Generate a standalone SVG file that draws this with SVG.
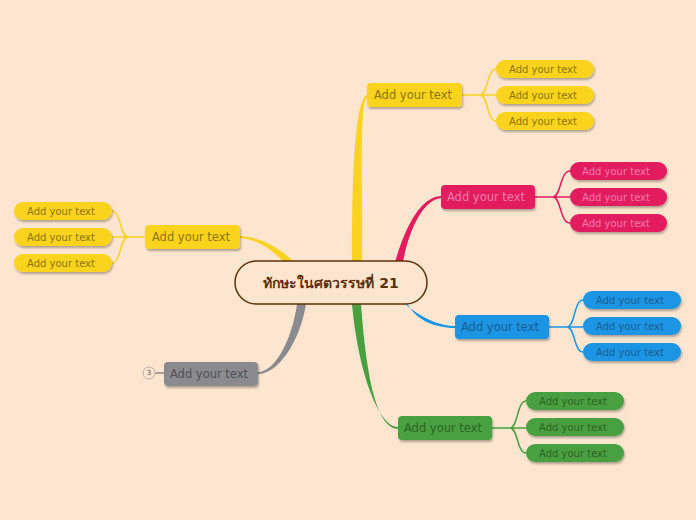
<svg xmlns="http://www.w3.org/2000/svg" width="696" height="520" viewBox="0 0 696 520">
<defs>
<filter id="sh" x="-10%" y="-20%" width="130%" height="160%">
<feDropShadow dx="1" dy="2" stdDeviation="1" flood-color="#000" flood-opacity="0.3"/>
</filter>
</defs>
<style>
text{font-family:"DejaVu Sans","Liberation Sans",sans-serif;text-anchor:middle;dominant-baseline:central}
.m{font-size:11.5px}
.c{font-size:10px}
.y rect{fill:#F9D31F}
.y text{fill:#8f7512}
.p rect{fill:#E31B5F}
.p text{fill:#F27AA8}
.b rect{fill:#1A95E5}
.b text{fill:#1B5F92}
.g rect{fill:#48A03F}
.g text{fill:#2C6425}
.k rect{fill:#8B8B8F}
.k text{fill:#505055}
.ly{stroke:#F9D31F}.lp{stroke:#E31B5F}.lb{stroke:#1A95E5}.lg{stroke:#48A03F}.lk{stroke:#8B8B8F}
#connectors path.s{fill:none;stroke-width:1.5}
</style>
<rect width="696" height="520" fill="#FDE6D0"/>
<g id="connectors">
<path d="M352,262 C352,150 357,96 368,94.5 L368,97 C360,98 362,150 362,262 Z" fill="#F9D31F"/>
<path d="M395,262 C405,228 420,197 441,196 L441,198 C423,200 409,230 403,262 Z" fill="#E31B5F"/>
<path d="M403,302 C420,318 440,326 455,326 L455,328 C438,328 418,322 408,305 Z" fill="#1A95E5"/>
<path d="M352,304 C358,370 378,427 398,427 L398,429 C375,428 366,370 361,304 Z" fill="#48A03F"/>
<path d="M294,262 C278,246 258,237 240,236 L240,238 C257,239 272,250 285,263 Z" fill="#F9D31F"/>
<path d="M297,304 C292,340 275,372 258,372 L258,374 C278,374 300,342 306,304 Z" fill="#8B8B8F"/>
<path class="s ly" d="M462,95 L480,95 C488,95 487,69 496,69 M480,95 L496,95 M480,95 C488,95 487,121 496,121"/>
<path class="s lp" d="M535,197 L553,197 C561,197 560,171 570,171 M553,197 L570,197 M553,197 C561,197 560,223 570,223"/>
<path class="s lb" d="M549,327 L567,327 C575,327 574,300 583,300 M567,327 L583,327 M567,327 C575,327 574,352 583,352"/>
<path class="s lg" d="M492,428 L510,428 C518,428 517,401 526,401 M510,428 L526,428 M510,428 C518,428 517,453 526,453"/>
<path class="s ly" d="M145,237 L128,237 C120,237 121,211 112,211 M128,237 L112,237 M128,237 C120,237 121,263 112,263"/>
<path class="s lk" d="M164,373 L155,373"/>
</g>
<g id="central">
<rect x="235" y="261" width="192" height="43" rx="21.5" fill="#FDE6D0" stroke="#5C3309" stroke-width="1.5"/>
<text x="331" y="283" font-size="14" font-weight="bold" fill="#5C2F0B">ทักษะในศตวรรษที่ 21</text>
</g>
<g id="n-top" class="y"><rect x="367" y="83" width="95" height="24" rx="4" filter="url(#sh)"/><text class="m" x="413" y="95">Add your text</text></g>
<g id="n-top-1" class="y"><rect x="496" y="60" width="98" height="18" rx="9" filter="url(#sh)"/><text class="c" x="543" y="69">Add your text</text></g>
<g id="n-top-2" class="y"><rect x="496" y="86" width="98" height="18" rx="9" filter="url(#sh)"/><text class="c" x="543" y="95">Add your text</text></g>
<g id="n-top-3" class="y"><rect x="496" y="112" width="98" height="18" rx="9" filter="url(#sh)"/><text class="c" x="543" y="121">Add your text</text></g>
<g id="n-pink" class="p"><rect x="441" y="185" width="94" height="24" rx="4" filter="url(#sh)"/><text class="m" x="486" y="197">Add your text</text></g>
<g id="n-pink-1" class="p"><rect x="570" y="162" width="97" height="18" rx="9" filter="url(#sh)"/><text class="c" x="616" y="171">Add your text</text></g>
<g id="n-pink-2" class="p"><rect x="570" y="188" width="97" height="18" rx="9" filter="url(#sh)"/><text class="c" x="616" y="197">Add your text</text></g>
<g id="n-pink-3" class="p"><rect x="570" y="214" width="97" height="18" rx="9" filter="url(#sh)"/><text class="c" x="616" y="223">Add your text</text></g>
<g id="n-blue" class="b"><rect x="455" y="315" width="94" height="24" rx="4" filter="url(#sh)"/><text class="m" x="500" y="327">Add your text</text></g>
<g id="n-blue-1" class="b"><rect x="583" y="291" width="98" height="18" rx="9" filter="url(#sh)"/><text class="c" x="630" y="300">Add your text</text></g>
<g id="n-blue-2" class="b"><rect x="583" y="317" width="98" height="18" rx="9" filter="url(#sh)"/><text class="c" x="630" y="326">Add your text</text></g>
<g id="n-blue-3" class="b"><rect x="583" y="343" width="98" height="18" rx="9" filter="url(#sh)"/><text class="c" x="630" y="352">Add your text</text></g>
<g id="n-green" class="g"><rect x="398" y="416" width="94" height="24" rx="4" filter="url(#sh)"/><text class="m" x="443" y="428">Add your text</text></g>
<g id="n-green-1" class="g"><rect x="526" y="392" width="98" height="18" rx="9" filter="url(#sh)"/><text class="c" x="573" y="401">Add your text</text></g>
<g id="n-green-2" class="g"><rect x="526" y="418" width="98" height="18" rx="9" filter="url(#sh)"/><text class="c" x="573" y="427">Add your text</text></g>
<g id="n-green-3" class="g"><rect x="526" y="444" width="98" height="18" rx="9" filter="url(#sh)"/><text class="c" x="573" y="453">Add your text</text></g>
<g id="n-left" class="y"><rect x="145" y="225" width="95" height="24" rx="4" filter="url(#sh)"/><text class="m" x="191" y="237">Add your text</text></g>
<g id="n-left-1" class="y"><rect x="14" y="202" width="98" height="18" rx="9" filter="url(#sh)"/><text class="c" x="61" y="211">Add your text</text></g>
<g id="n-left-2" class="y"><rect x="14" y="228" width="98" height="18" rx="9" filter="url(#sh)"/><text class="c" x="61" y="237">Add your text</text></g>
<g id="n-left-3" class="y"><rect x="14" y="254" width="98" height="18" rx="9" filter="url(#sh)"/><text class="c" x="61" y="263">Add your text</text></g>
<g id="n-gray" class="k"><rect x="164" y="362" width="94" height="24" rx="4" filter="url(#sh)"/><text class="m" x="209" y="374">Add your text</text>
<circle cx="149" cy="373" r="6" fill="#FDE6D0" stroke="#B8AFA8" stroke-width="1"/><text x="149" y="373" font-size="7" fill="#A09890">3</text></g>
</svg>
